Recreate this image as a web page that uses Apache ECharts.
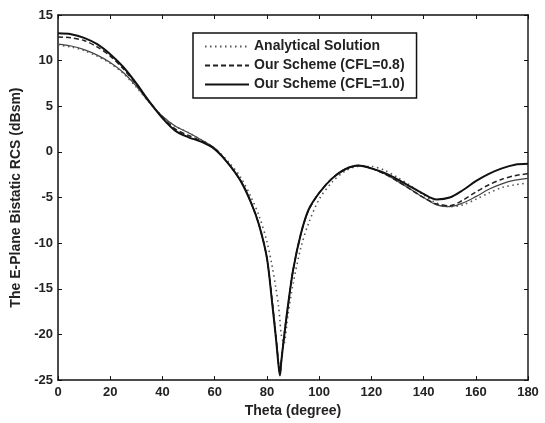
<!DOCTYPE html>
<html>
<head>
<meta charset="utf-8">
<script src="https://cdn.jsdelivr.net/npm/echarts@6/dist/echarts.min.js"></script>
<style>
  html, body { margin: 0; padding: 0; background: #fff; }
  #chart { width: 545px; height: 423px; }
</style>
</head>
<body>
<div id="chart"></div>
<script>
// theta (degree) sample points, denser near the null
var theta = [0, 5, 10, 15, 20, 25, 30, 35, 40, 45, 50, 55, 60, 65, 70, 74, 77, 80, 82, 83.5, 84.5, 85, 85.5, 86.5, 88, 90, 93, 96, 100, 105, 110, 115, 120, 125, 130, 135, 140, 145, 150, 155, 160, 165, 170, 175, 180];

var analytical = [11.7, 11.5, 11.1, 10.5, 9.7, 8.6, 7.1, 5.4, 3.9, 2.8, 2.1, 1.3, 0.4, -1.0, -2.8, -5.0, -7.0, -9.8, -12.5, -15.0, -17.0, -18.5, -20.0, -21.0, -18.0, -14.5, -10.5, -7.8, -5.2, -3.3, -2.1, -1.6, -1.6, -2.0, -2.8, -3.7, -4.7, -5.6, -6.0, -5.8, -5.2, -4.5, -3.9, -3.6, -3.4];
var cfl08 = [12.6, 12.5, 12.2, 11.5, 10.5, 9.1, 7.4, 5.5, 3.8, 2.5, 1.8, 1.2, 0.4, -1.2, -3.2, -5.6, -8.0, -11.6, -16.3, -20.3, -23.3, -24.3, -23.0, -20.3, -17.0, -13.0, -9.0, -6.4, -4.5, -2.9, -1.9, -1.5, -1.8, -2.4, -3.2, -4.1, -5.0, -5.7, -5.9, -5.3, -4.4, -3.6, -3.0, -2.6, -2.4];
var cfl10 = [13.0, 12.9, 12.5, 11.8, 10.7, 9.3, 7.5, 5.5, 3.7, 2.3, 1.6, 1.1, 0.3, -1.2, -3.2, -5.6, -8.0, -11.6, -16.5, -20.5, -23.5, -24.5, -23.0, -20.5, -17.0, -13.0, -9.0, -6.3, -4.5, -2.9, -1.9, -1.5, -1.8, -2.3, -3.0, -3.8, -4.6, -5.2, -5.0, -4.2, -3.2, -2.4, -1.8, -1.4, -1.3];
var thinLine = [11.8, 11.6, 11.2, 10.6, 9.8, 8.7, 7.2, 5.4, 3.9, 2.8, 2.1, 1.3, 0.4, -1.2, -3.2, -5.6, -8.0, -11.6, -16.3, -20.3, -23.3, -24.3, -23.0, -20.3, -17.0, -13.0, -9.0, -6.4, -4.5, -2.9, -1.9, -1.5, -1.8, -2.4, -3.2, -4.1, -5.0, -5.8, -6.0, -5.6, -4.9, -4.1, -3.5, -3.1, -2.9];

var xTicks = { min: 0, max: 180, interval: 20 };
var yTicks = { min: -25, max: 15, interval: 5 };

function pairs(ys) {
  return theta.map(function (t, i) { return [t, ys[i]]; });
}

var font = "'Liberation Sans', Arial, sans-serif";
var tickStyle = { color: "#222", fontFamily: font, fontWeight: "bold", fontSize: 13 };
var nameStyle = { color: "#222", fontFamily: font, fontWeight: "bold", fontSize: 14 };

var myChart = echarts.init(document.getElementById("chart"));
var option = {
  backgroundColor: "#fff",
  animation: false,
  grid: { left: 58, right: 17, top: 15, bottom: 39 },
  legend: {
    left: 193,
    top: 33,
    orient: "vertical",
    padding: [6, 12, 6, 11],
    itemWidth: 44,
    itemHeight: 10,
    itemGap: 4,
    borderColor: "#111",
    borderWidth: 1.5,
    itemStyle: { opacity: 0 },
    textStyle: { color: "#222", fontFamily: font, fontWeight: "bold", fontSize: 14, lineHeight: 15 },
    data: ["Analytical Solution", "Our Scheme (CFL=0.8)", "Our Scheme (CFL=1.0)"]
  },
  xAxis: [
    {
      type: "value",
      min: xTicks.min, max: xTicks.max, interval: xTicks.interval,
      name: "Theta (degree)",
      nameLocation: "middle",
      nameGap: 20,
      nameTextStyle: nameStyle,
      axisLine: { onZero: false, lineStyle: { color: "#111", width: 1.5 } },
      axisTick: { inside: true, length: 4, lineStyle: { color: "#111" } },
      axisLabel: Object.assign({ margin: 6 }, tickStyle),
      splitLine: { show: false }
    },
    {
      type: "value", position: "top",
      min: xTicks.min, max: xTicks.max, interval: xTicks.interval,
      axisLine: { onZero: false, lineStyle: { color: "#111", width: 1.5 } },
      axisTick: { inside: true, length: 4, lineStyle: { color: "#111" } },
      axisLabel: { show: false },
      splitLine: { show: false }
    }
  ],
  yAxis: [
    {
      type: "value",
      min: yTicks.min, max: yTicks.max, interval: yTicks.interval,
      name: "The E-Plane Bistatic RCS (dBsm)",
      nameLocation: "middle",
      nameGap: 35,
      nameTextStyle: nameStyle,
      axisLine: { onZero: false, lineStyle: { color: "#111", width: 1.5 } },
      axisTick: { inside: true, length: 4, lineStyle: { color: "#111" } },
      axisLabel: Object.assign({ margin: 5 }, tickStyle),
      splitLine: { show: false }
    },
    {
      type: "value", position: "right",
      min: yTicks.min, max: yTicks.max, interval: yTicks.interval,
      axisLine: { onZero: false, lineStyle: { color: "#555", width: 2 } },
      axisTick: { inside: true, length: 4, lineStyle: { color: "#111" } },
      axisLabel: { show: false },
      splitLine: { show: false }
    }
  ],
  series: [
    {
      name: "Our Scheme (CFL=1.0) fine",
      type: "line",
      data: pairs(thinLine),
      smooth: 0.3,
      symbol: "none",
      lineStyle: { color: "#444", width: 1.2 }
    },
    {
      name: "Analytical Solution",
      type: "line",
      data: pairs(analytical),
      smooth: 0.3,
      symbol: "none",
      itemStyle: { color: "#555" },
      lineStyle: { color: "#555", width: 1.6, type: [1.5, 3.5] }
    },
    {
      name: "Our Scheme (CFL=0.8)",
      type: "line",
      data: pairs(cfl08),
      smooth: 0.3,
      symbol: "none",
      itemStyle: { color: "#222" },
      lineStyle: { color: "#222", width: 1.5, type: [5, 3] }
    },
    {
      name: "Our Scheme (CFL=1.0)",
      type: "line",
      data: pairs(cfl10),
      smooth: 0.3,
      symbol: "none",
      itemStyle: { color: "#111" },
      lineStyle: { color: "#111", width: 2 }
    }
  ]
};
myChart.setOption(option);
</script>
</body>
</html>
